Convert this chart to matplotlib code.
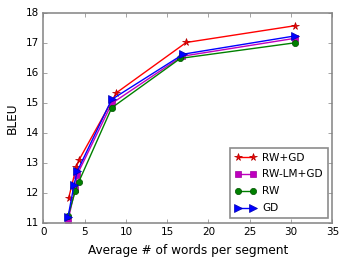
import matplotlib
matplotlib.use('Agg')
import matplotlib.pyplot as plt

plt.style.use('classic')
plt.rcParams['font.family'] = ['DejaVu Sans']

x_rwgd = [3.07, 4.0, 4.32, 8.84, 17.3, 30.5]
y_rwgd = [11.82, 12.86, 13.09, 15.33, 17.01, 17.57]

x_rwlmgd = [3.0, 3.85, 4.1, 8.3, 16.8, 30.5]
y_rwlmgd = [11.08, 12.12, 12.6, 14.98, 16.55, 17.15]

x_rw = [3.0, 3.88, 4.28, 8.28, 16.6, 30.5]
y_rw = [11.22, 12.06, 12.35, 14.83, 16.48, 17.0]

x_gd = [3.0, 3.72, 4.12, 8.28, 16.95, 30.5]
y_gd = [11.2, 12.26, 12.72, 15.11, 16.62, 17.23]

fig = plt.figure(figsize=(3.48, 2.61), dpi=100)
ax = fig.add_axes([0.1244, 0.1467, 0.8306, 0.8043])

ax.plot(x_rwgd, y_rwgd, '-*', color='r', mec='#b00000', mfc='r', label='RW+GD', markersize=5.5, lw=1, mew=0.5)
ax.plot(x_rwlmgd, y_rwlmgd, '-s', color='m', mec='#a000a0', mfc='m', label='RW-LM+GD', markersize=4.5, lw=1, mew=0.5)
ax.plot(x_rw, y_rw, '-o', color='g', mec='#005000', mfc='g', label='RW', markersize=4.5, lw=1, mew=0.5)
ax.plot(x_gd, y_gd, '->', color='b', mec='#0000b0', mfc='b', label='GD', markersize=5.5, lw=1, mew=0.5)

ax.set_xlim(0, 35)
ax.set_ylim(11, 18)
ax.set_xticks(range(0, 36, 5))
ax.set_yticks(range(11, 19))
ax.tick_params(labelsize=7.5, length=3, color='0.5', pad=3)
for s in ax.spines.values():
    s.set_color('0.55')
    s.set_linewidth(1.2)
ax.set_xlabel('Average # of words per segment', fontsize=8.7)
ax.set_ylabel('BLEU', fontsize=8.7)
leg = ax.legend(loc='lower right', fontsize=7.6, numpoints=2, handlelength=2.0,
                borderpad=0.45, labelspacing=0.65, handletextpad=0.6,
                borderaxespad=0.45)
leg.get_frame().set_edgecolor('0.55')
leg.get_frame().set_linewidth(1.2)

fig.savefig('out.png', dpi=100)
